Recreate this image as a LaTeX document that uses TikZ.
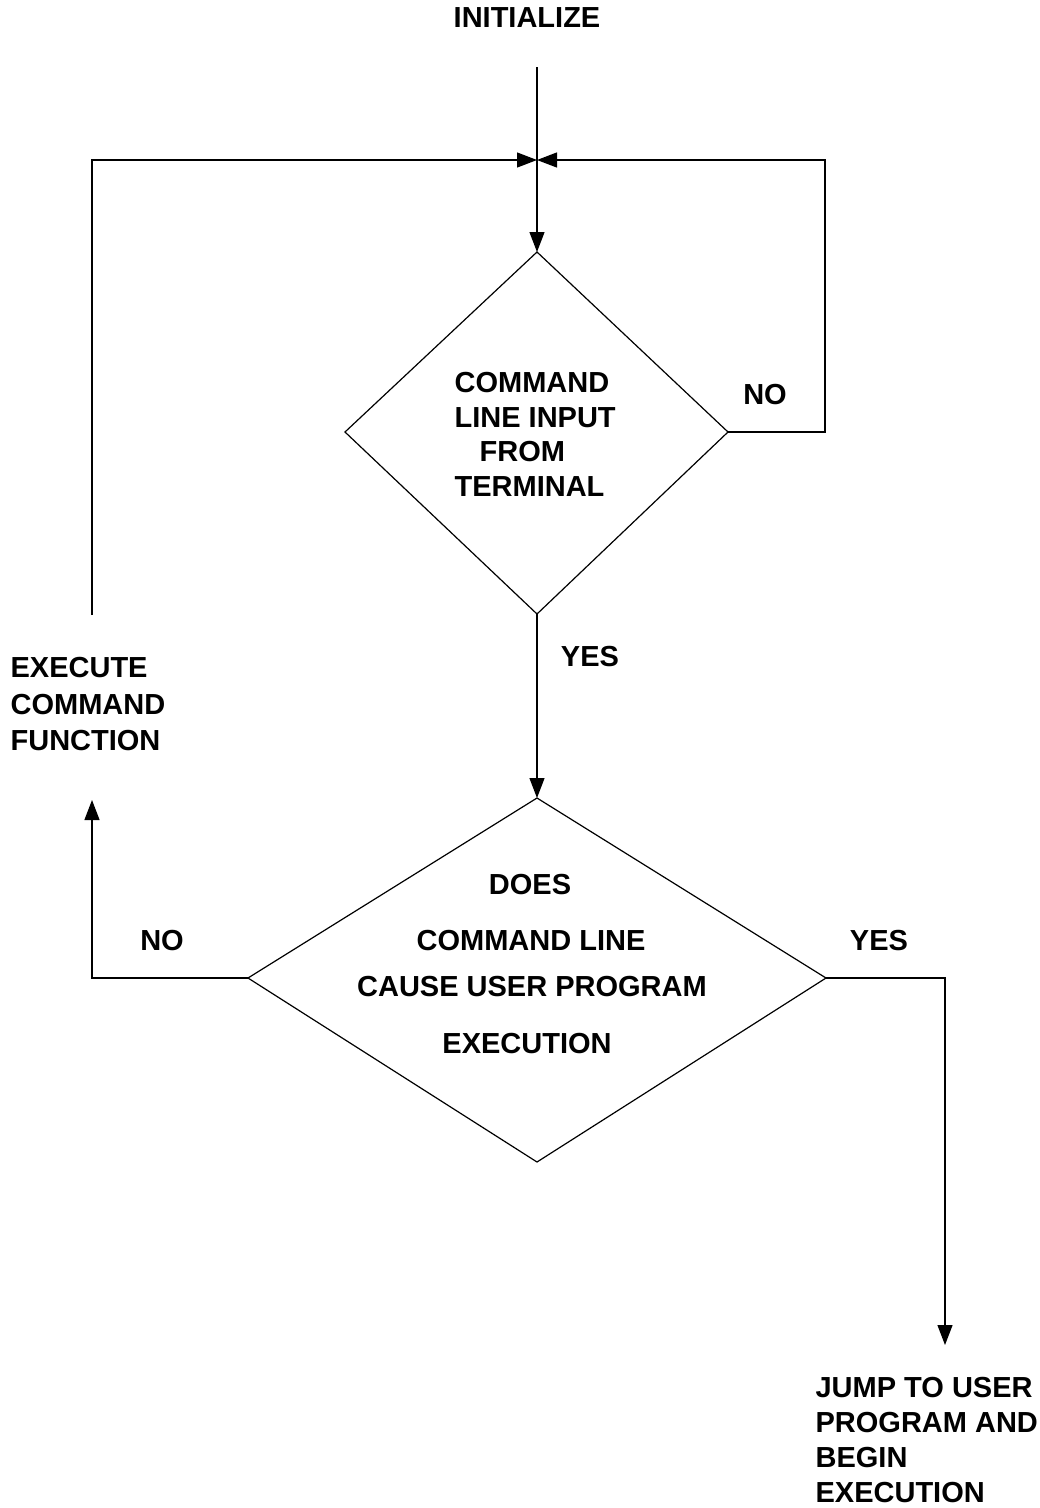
\documentclass[tikz,border=0pt]{standalone}
\usepackage{fontspec}
\setmainfont{Liberation Sans}
\usetikzlibrary{arrows.meta}
\begin{document}
\begin{tikzpicture}[x=1pt,y=-1pt,
  line width=1.2pt,
  tip/.style={-{Triangle[length=20pt,width=15pt]}},
  lbl/.style={inner sep=0pt,font=\fontsize{29}{34.5}\selectfont\bfseries},
]
\useasboundingbox (0,0) rectangle (1040,1508);
% coordinates
\coordinate (top) at (537,67);
\coordinate (j) at (537,160);
\coordinate (tl) at (92,160);
\coordinate (tr) at (825,160);
\coordinate (lup) at (92,615);
\coordinate (rmid) at (825,432);
\coordinate (d1t) at (537,252);
\coordinate (d1l) at (345,432);
\coordinate (d1r) at (728,432);
\coordinate (d1b) at (537,614);
\coordinate (d2t) at (537,798);
\coordinate (d2l) at (248,978);
\coordinate (d2r) at (826,978);
\coordinate (d2b) at (537,1162);
\coordinate (lc) at (92,978);
\coordinate (lend) at (92,800);
\coordinate (rc) at (945,978);
\coordinate (rend) at (945,1345);
% texts
\node[lbl] (init) at (527,18) {INITIALIZE};
\node[lbl,anchor=west,align=left] (q1) at (454,434.5) {COMMAND\\LINE INPUT\\\hspace*{25pt}FROM\\TERMINAL};
\node[lbl] (no1) at (765,395) {NO};
\node[lbl] (yes1) at (590,657) {YES};
\node[lbl] (q2a) at (530,885) {DOES};
\node[lbl] (q2b) at (531,941) {COMMAND LINE};
\node[lbl] (q2c) at (532,987) {CAUSE USER PROGRAM};
\node[lbl] (q2d) at (527,1044) {EXECUTION};
\node[lbl] (no2) at (162,941) {NO};
\node[lbl] (yes2) at (879,941) {YES};
\node[lbl,anchor=west,align=left,font=\fontsize{29}{36.5}\selectfont\bfseries] (exec) at (10,704.5) {EXECUTE\\COMMAND\\FUNCTION};
\node[lbl,anchor=west,align=left,font=\fontsize{29}{35.3}\selectfont\bfseries] (jump) at (815,1440) {JUMP TO USER\\PROGRAM AND\\BEGIN\\EXECUTION};
% diamonds
\draw (d1t) -- (d1r) -- (d1b) -- (d1l) -- cycle;
\draw (d2t) -- (d2r) -- (d2b) -- (d2l) -- cycle;
% connectors
\draw[tip] (top) -- (d1t);
\draw[tip] (lup) -- (tl) -- (j);
\draw[tip] (d1r) -- (rmid) -- (tr) -- (j);
\draw[tip] (d1b) -- (d2t);
\draw[tip] (d2l) -- (lc) -- (lend);
\draw[tip] (d2r) -- (rc) -- (rend);
\end{tikzpicture}
\end{document}
